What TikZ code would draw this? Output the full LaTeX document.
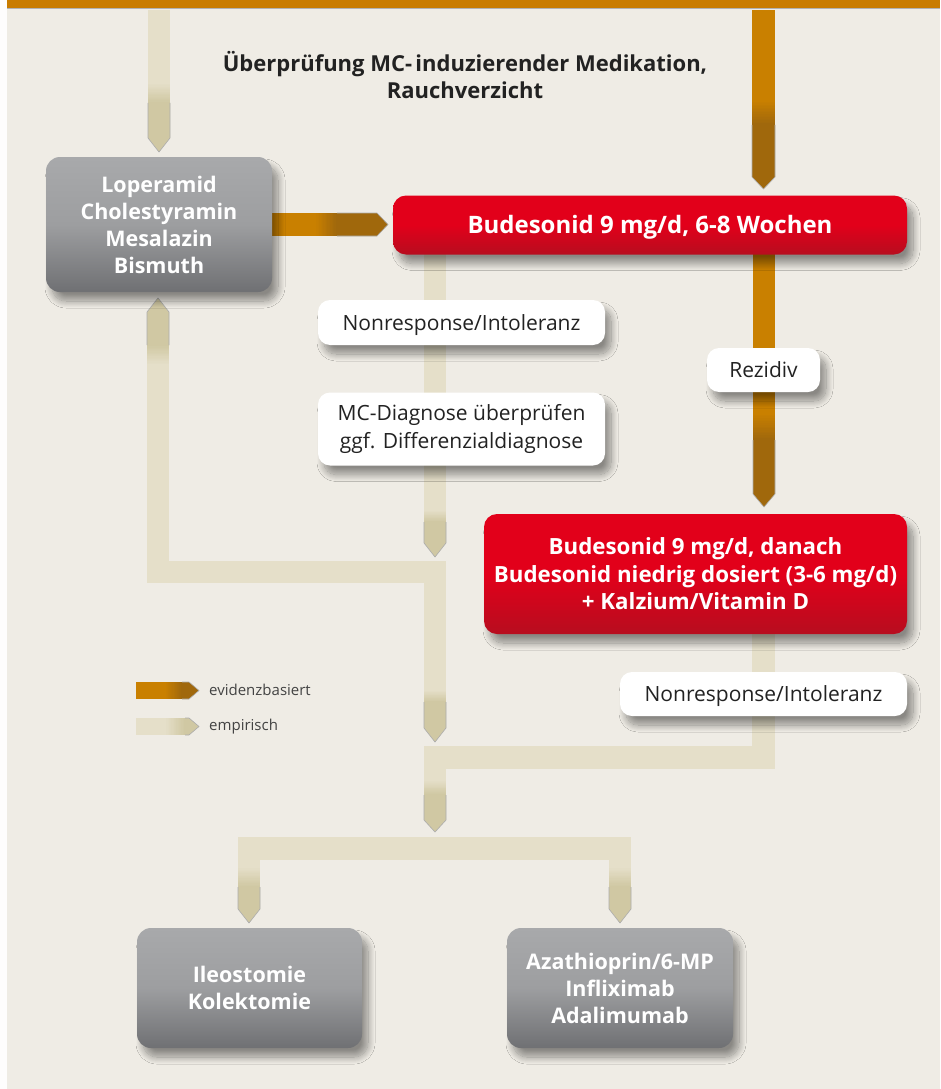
\documentclass[tikz,border=0pt]{standalone}
\usepackage{fontspec}
\setmainfont{Open Sans}
\usetikzlibrary{shadows.blur}
\definecolor{bg}{HTML}{EFECE5}
\definecolor{bandc}{HTML}{C97C00}
\definecolor{orL}{HTML}{C98000}
\definecolor{orD}{HTML}{A0680C}
\definecolor{beL}{HTML}{E5DFC9}
\definecolor{beD}{HTML}{D0C8A3}
\definecolor{redT}{HTML}{E2001A}
\definecolor{redB}{HTML}{B70D1F}
\definecolor{grT}{HTML}{A8A9AB}
\definecolor{grM}{HTML}{9D9EA0}
\definecolor{grB}{HTML}{6F7073}
\definecolor{txt}{HTML}{222222}
\tikzset{
  boxshadow/.style={blur shadow={shadow xshift=6pt, shadow yshift=-9pt, shadow blur radius=7pt, shadow blur steps=14, shadow opacity=42}},
  boldtext/.style={font=\bfseries\fontsize{21.5}{27}\selectfont},
  graybox/.style={rounded corners=14pt, top color=grT, bottom color=grB, middle color=grM, boxshadow, text=white, boldtext, align=center, inner sep=0pt},
  redbox/.style={rounded corners=13pt, top color=redT, bottom color=redB, middle color=redT, boxshadow, text=white, boldtext, align=center, inner sep=0pt},
  labelbox/.style={rounded corners=12pt, fill=white, boxshadow, text=txt, font=\fontsize{21}{28}\selectfont, align=center, inner sep=0pt},
  labelone/.style={labelbox, text height=15pt, text depth=0pt},
  legendtext/.style={text=txt!85, font=\fontsize{15}{17}\selectfont, anchor=west, inner sep=0pt},
  arrline/.style={draw=gray!65, line width=0.6pt}
}
% vertical gradient in strips: #1 xl, #2 xr, #3 y1 (top), #4 y2 (bottom), #5 colour at top, #6 colour at bottom
\newcommand\vgrad[6]{%
  \foreach \k [evaluate=\k as \p using {int(round(\k*100/15))}] in {0,...,15}
    \fill[#6!\p!#5] (#1,{#3+(#4-#3)*\k/16}) rectangle (#2,{#3+(#4-#3)*(\k+1)/16+0.4});}
% horizontal gradient in strips: #1 yt, #2 yb, #3 x1 (left), #4 x2 (right), #5 left colour, #6 right colour
\newcommand\hgrad[6]{%
  \foreach \k [evaluate=\k as \p using {int(round(\k*100/15))}] in {0,...,15}
    \fill[#6!\p!#5] ({#3+(#4-#3)*\k/16},#1) rectangle ({#3+(#4-#3)*(\k+1)/16+0.4},#2);}
% vertical downward arrow: #1 xl, #2 xr, #3 ytop, #4 grad start, #5 grad end, #6 head start, #7 tip, #8 light, #9 dark
\newcommand\varrow[9]{%
  \fill[#8] (#1,#3) rectangle (#2,#4+0.5);
  \vgrad{#1}{#2}{#4}{#5}{#8}{#9}
  \fill[#9] (#1,#5) -- (#2,#5) -- (#2,#6) -- ({(#1+#2)/2},#7) -- (#1,#6) -- cycle;
  \draw[arrline] (#1,#5) -- (#1,#6) -- ({(#1+#2)/2},#7) -- (#2,#6) -- (#2,#5);}
% horizontal rightward arrow: #1 yt, #2 yb, #3 xleft, #4 grad start, #5 grad end, #6 head start, #7 tip, #8 light, #9 dark
\newcommand\harrow[9]{%
  \fill[#8] (#3,#1) rectangle (#4+0.5,#2);
  \hgrad{#1}{#2}{#4}{#5}{#8}{#9}
  \fill[#9] (#5,#1) -- (#6,#1) -- (#7,{(#1+#2)/2}) -- (#6,#2) -- (#5,#2) -- cycle;
  \draw[arrline] (#5,#1) -- (#6,#1) -- (#7,{(#1+#2)/2}) -- (#6,#2) -- (#5,#2);}
\begin{document}
\begin{tikzpicture}[x=1pt,y=-1pt]
\useasboundingbox (0,0) rectangle (940,1089);
% background
\fill[white!92!bg] (0,0) rectangle (940,1089);
\fill[bg] (7,9) rectangle (940,1089);
\fill[bandc] (7,0) rectangle (940,8.5);
\draw[gray!60, line width=1pt] (7,9) -- (940,9);

% ---- connectors (drawn below the boxes)
% top left (empirisch) and top right (evidenzbasiert)
\varrow{148}{170}{10}{83}{103}{138}{152}{beL}{beD}
\varrow{752}{775}{10}{100}{125}{177}{189}{orL}{orD}
% Loperamid -> Budesonid
\harrow{213}{236}{272}{315}{337}{377}{388}{orL}{orD}
% Budesonid -> Rezidiv -> Budesonid 2
\varrow{753}{775}{250}{413}{440}{494}{507}{orL}{orD}
% Budesonid -> Nonresponse -> MC-Diagnose
\varrow{424}{446}{250}{510}{522}{543}{557}{beL}{beD}
% L connector back to Loperamid and down
\fill[beL] (147,561) rectangle (446,583);
\fill[beL] (147,583) rectangle (169,364.5);
\vgrad{147}{169}{345}{365}{beD}{beL}
\fill[beD] (147,345.5) -- (169,345.5) -- (169,312) -- (158,298) -- (147,312) -- cycle;
\draw[arrline] (147,345) -- (147,312) -- (158,298) -- (169,312) -- (169,345);
\varrow{424}{446}{561}{690}{702}{728}{742}{beL}{beD}
% from Budesonid 2
\fill[beL] (752,630) rectangle (775,769);
\fill[beL] (424,746) rectangle (775,769);
\varrow{424}{446}{746}{780}{795}{820}{832}{beL}{beD}
% fork
\fill[beL] (238,837) rectangle (631,860);
\varrow{238}{260}{837}{867}{887}{909}{923}{beL}{beD}
\varrow{609}{631}{837}{867}{887}{909}{923}{beL}{beD}

% ---- boxes
\node[font=\bfseries\fontsize{22}{27}\selectfont, text=txt, align=center] (hint) at (465,75) {Überprüfung MC-\hspace{0.15em}induzierender Medikation,\\Rauchverzicht};
\node[graybox, minimum width=226pt, minimum height=135pt] (lop) at (159,224.5) {Loperamid\\Cholestyramin\\Mesalazin\\Bismuth};
\node[redbox, font=\bfseries\fontsize{24}{27}\selectfont, text height=17pt, text depth=0pt, minimum width=514pt, minimum height=59pt] (bud1) at (650,225) {Budesonid 9 mg/d, 6-8 Wochen};
\node[redbox, font=\bfseries\fontsize{22.3}{27.5}\selectfont, minimum width=423pt, minimum height=120pt] (bud2) at (695.5,574) {Budesonid 9 mg/d, danach\\Budesonid niedrig dosiert (3-6 mg/d)\\+ Kalzium/Vitamin D};
\node[labelone, minimum width=287pt, minimum height=45pt] (nr1) at (461.5,322.5) {Nonresponse/Intoleranz};
\node[labelbox, minimum width=287pt, minimum height=73pt] (mc) at (461.5,429) {MC-Diagnose überprüfen\\ggf. Differenzialdiagnose};
\node[labelone, minimum width=113pt, minimum height=44pt] (rez) at (763.5,370) {Rezidiv};
\node[labelone, minimum width=287pt, minimum height=44pt] (nr2) at (763.5,694) {Nonresponse/Intoleranz};
\node[graybox, minimum width=225pt, minimum height=120pt] (ileo) at (249.5,988) {Ileostomie\\Kolektomie};
\node[graybox, minimum width=226pt, minimum height=120pt] (aza) at (620,988) {Azathioprin/6-MP\\Infliximab\\Adalimumab};

% ---- legend
\harrow{682}{699}{136}{165}{182}{189}{199}{orL}{orD}
\harrow{718}{735}{136}{165}{185}{189}{199}{beL}{beD}
\node[legendtext] (lev) at (209,690) {evidenzbasiert};
\node[legendtext] (lem) at (209,727) {empirisch};
\end{tikzpicture}
\end{document}
